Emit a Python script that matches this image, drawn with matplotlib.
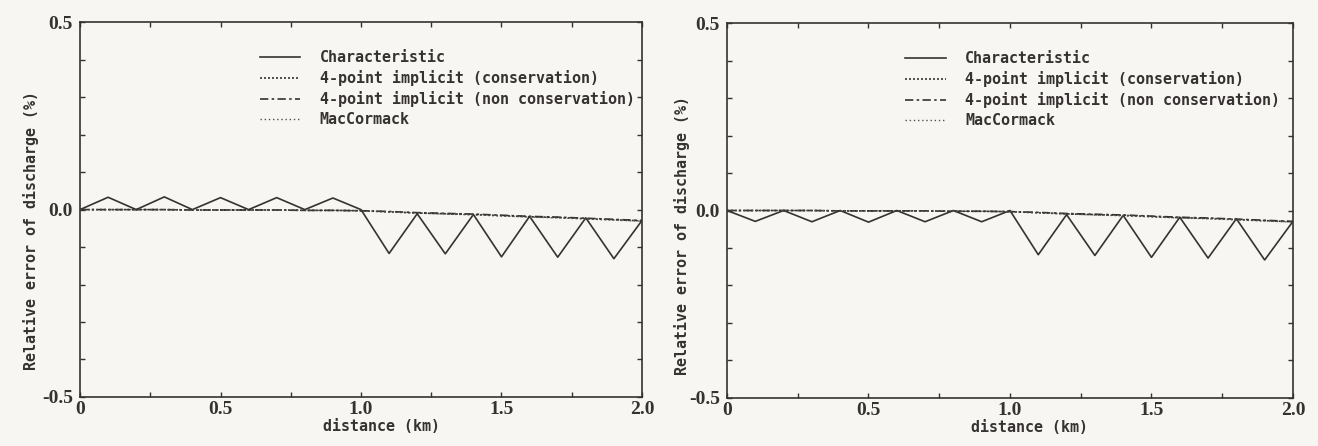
import matplotlib
matplotlib.use("Agg")
import matplotlib.pyplot as plt
import numpy as np

# distance along the channel (km)
distance = [0.0, 0.1, 0.2, 0.3, 0.4, 0.5, 0.6, 0.7, 0.8, 0.9, 1.0,
            1.1, 1.2, 1.3, 1.4, 1.5, 1.6, 1.7, 1.8, 1.9, 2.0]

# left panel
char_left = [0.0, 0.033, 0.0, 0.034, 0.0, 0.032, 0.0, 0.032, 0.0, 0.031, 0.0,
             -0.117, -0.011, -0.118, -0.013, -0.126, -0.018, -0.127, -0.022, -0.131, -0.029]
cons_left = [0.0, 0.0, 0.0, 0.0, -0.001, -0.001, -0.001, -0.001, -0.002, -0.002, -0.003,
             -0.006, -0.009, -0.011, -0.013, -0.016, -0.019, -0.021, -0.024, -0.027, -0.030]
noncons_left = [0.0, 0.0, 0.0, 0.0, -0.001, -0.001, -0.001, -0.001, -0.002, -0.002, -0.003,
                -0.005, -0.008, -0.010, -0.012, -0.015, -0.018, -0.020, -0.023, -0.026, -0.029]
mac_left = [0.0, 0.0, 0.0, 0.0, -0.001, -0.001, -0.001, -0.001, -0.002, -0.002, -0.003,
            -0.006, -0.009, -0.012, -0.014, -0.017, -0.020, -0.022, -0.025, -0.028, -0.031]

# right panel
char_right = [0.0, -0.029, 0.0, -0.030, 0.0, -0.031, 0.0, -0.030, 0.0, -0.030, 0.0,
              -0.118, -0.011, -0.120, -0.013, -0.125, -0.018, -0.127, -0.022, -0.132, -0.029]
cons_right = [0.0, 0.0, 0.0, 0.0, -0.001, -0.001, -0.001, -0.001, -0.002, -0.002, -0.003,
              -0.006, -0.009, -0.011, -0.013, -0.016, -0.019, -0.021, -0.024, -0.027, -0.030]
noncons_right = [0.0, 0.0, 0.0, 0.0, -0.001, -0.001, -0.001, -0.001, -0.002, -0.002, -0.003,
                 -0.005, -0.008, -0.010, -0.012, -0.015, -0.018, -0.020, -0.023, -0.026, -0.029]
mac_right = [0.0, 0.0, 0.0, 0.0, -0.001, -0.001, -0.001, -0.001, -0.002, -0.002, -0.003,
             -0.006, -0.009, -0.012, -0.014, -0.017, -0.020, -0.022, -0.025, -0.028, -0.031]

labels = ["Characteristic", "4-point implicit (conservation)",
          "4-point implicit (non conservation)", "MacCormack"]

x_ticks = [0, 0.5, 1.0, 1.5, 2.0]
x_ticklabels = ["0", "0.5", "1.0", "1.5", "2.0"]
y_ticks = [-0.5, 0.0, 0.5]
y_ticklabels = ["-0.5", "0.0", "0.5"]

ink = "#363232"
bg = "#f7f6f2"
mono = {"family": "DejaVu Sans Mono", "weight": "bold", "size": 10.8}

fig = plt.figure(figsize=(13.18, 4.46), dpi=100, facecolor=bg)
ax1 = fig.add_axes([0.0607, 0.110, 0.4264, 0.840])
ax2 = fig.add_axes([0.5516, 0.108, 0.4294, 0.840])

panels = [(ax1, char_left, cons_left, noncons_left, mac_left, (0.32, 0.925), (-0.073, 0.444), (0.536, -0.058)),
          (ax2, char_right, cons_right, noncons_right, mac_right, (0.315, 0.925), (-0.065, 0.433), (0.534, -0.058))]

for ax, ch, co, nc, mc, leg_at, ylab_at, xlab_at in panels:
    ax.set_facecolor(bg)
    ax.plot(distance, ch, color=ink, lw=1.2, ls="-", label=labels[0])
    ax.plot(distance, co, color=ink, lw=1.2, ls=(0, (1.2, 1.2)), label=labels[1])
    ax.plot(distance, nc, color=ink, lw=1.2, ls=(0, (5, 2, 1.5, 2)), label=labels[2])
    ax.plot(distance, mc, color="#555050", lw=1.0, ls=(0, (1, 2)), label=labels[3])

    ax.set_xlim(0, 2.0)
    ax.set_ylim(-0.5, 0.5)
    ax.set_xticks(x_ticks)
    ax.set_xticklabels(x_ticklabels, family="Liberation Serif", weight="bold", size=14, color=ink)
    ax.set_xticks(np.arange(0, 2.01, 0.25), minor=True)
    ax.set_yticks(y_ticks)
    ax.set_yticklabels(y_ticklabels, family="Liberation Serif", weight="bold", size=14, color=ink)
    ax.set_yticks(np.arange(-0.5, 0.51, 0.1), minor=True)
    ax.tick_params(which="both", direction="in", top=True, right=True,
                   length=3.5, width=1, color=ink)
    ax.tick_params(axis="y", pad=5)
    ax.tick_params(axis="x", pad=3)
    for sp in ax.spines.values():
        sp.set_color(ink)
        sp.set_linewidth(1.2)

    ax.set_xlabel("distance (km)", fontdict=mono, color=ink)
    ax.set_ylabel("Relative error of discharge (%)", fontdict=mono, color=ink)
    ax.yaxis.set_label_coords(*ylab_at)
    ax.xaxis.set_label_coords(*xlab_at)

    leg = ax.legend(loc="upper left", bbox_to_anchor=leg_at, frameon=False,
                    prop=mono, handlelength=2.7, handletextpad=1.3,
                    labelspacing=0.33, borderpad=0, borderaxespad=0)
    for t in leg.get_texts():
        t.set_color(ink)

fig.savefig("out.png", dpi=100, facecolor=bg)
